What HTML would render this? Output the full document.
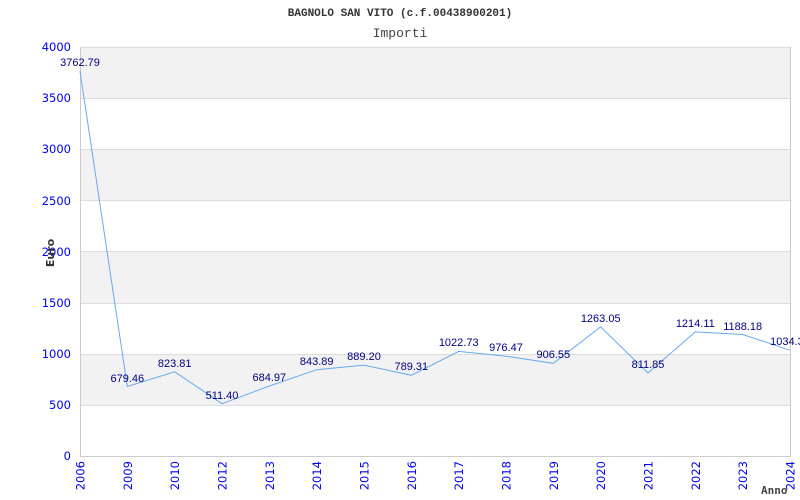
<!DOCTYPE html>
<html><head><meta charset="utf-8"><style>html,body{margin:0;padding:0;background:#fff}svg{display:block}</style></head>
<body>
<svg width="800" height="500" xmlns="http://www.w3.org/2000/svg">
<rect x="80" y="47" width="710" height="51.1" fill="#f2f2f2"/>
<rect x="80" y="149.4" width="710" height="51.1" fill="#f2f2f2"/>
<rect x="80" y="251.9" width="710" height="51.1" fill="#f2f2f2"/>
<rect x="80" y="354.2" width="710" height="51.1" fill="#f2f2f2"/>
<g stroke="#dddddd" stroke-width="1">
<line x1="80" y1="47.5" x2="790" y2="47.5"/>
<line x1="80" y1="98.5" x2="790" y2="98.5"/>
<line x1="80" y1="149.5" x2="790" y2="149.5"/>
<line x1="80" y1="200.5" x2="790" y2="200.5"/>
<line x1="80" y1="251.5" x2="790" y2="251.5"/>
<line x1="80" y1="303.5" x2="790" y2="303.5"/>
<line x1="80" y1="354.5" x2="790" y2="354.5"/>
<line x1="80" y1="405.5" x2="790" y2="405.5"/>
</g>
<g stroke="#cccccc" stroke-width="1" fill="none">
<line x1="80.5" y1="47" x2="80.5" y2="456"/>
<line x1="790.5" y1="47" x2="790.5" y2="456"/>
<line x1="80" y1="456.5" x2="791" y2="456.5"/>
</g>
<g font-family="DejaVu Sans, sans-serif" font-size="11.5" fill="#0000ee" text-anchor="end">
<text x="71" y="51">4000</text><text x="71" y="102">3500</text><text x="71" y="153">3000</text>
<text x="71" y="205">2500</text><text x="71" y="256">2000</text><text x="71" y="307">1500</text>
<text x="71" y="358">1000</text><text x="71" y="409">500</text><text x="71" y="460">0</text>
</g>
<g font-family="DejaVu Sans, sans-serif" font-size="11.5" fill="#0000ee" text-anchor="end">
<text transform="translate(84.5,461) rotate(-90)">2006</text>
<text transform="translate(131.8,461) rotate(-90)">2009</text>
<text transform="translate(179.2,461) rotate(-90)">2010</text>
<text transform="translate(226.5,461) rotate(-90)">2012</text>
<text transform="translate(273.8,461) rotate(-90)">2013</text>
<text transform="translate(321.2,461) rotate(-90)">2014</text>
<text transform="translate(368.5,461) rotate(-90)">2015</text>
<text transform="translate(415.8,461) rotate(-90)">2016</text>
<text transform="translate(463.2,461) rotate(-90)">2017</text>
<text transform="translate(510.5,461) rotate(-90)">2018</text>
<text transform="translate(557.8,461) rotate(-90)">2019</text>
<text transform="translate(605.2,461) rotate(-90)">2020</text>
<text transform="translate(652.5,461) rotate(-90)">2021</text>
<text transform="translate(699.8,461) rotate(-90)">2022</text>
<text transform="translate(747.2,461) rotate(-90)">2023</text>
<text transform="translate(794.5,461) rotate(-90)">2024</text>
</g>
<polyline fill="none" stroke="#66aaee" stroke-width="1" points="80,71.2 127.3,386.5 174.7,371.8 222,403.7 269.3,386 316.7,369.7 364,365.1 411.3,375.3 458.7,351.4 506,356.2 553.3,363.3 600.7,326.9 648,373 695.3,331.9 742.7,334.5 790,350.2"/>
<g font-family="Liberation Sans, sans-serif" font-size="11" fill="#000080" text-anchor="middle">
<text x="80" y="66">3762.79</text>
<text x="127.3" y="382">679.46</text>
<text x="174.7" y="367">823.81</text>
<text x="222" y="399">511.40</text>
<text x="269.3" y="381">684.97</text>
<text x="316.7" y="365">843.89</text>
<text x="364" y="360">889.20</text>
<text x="411.3" y="370">789.31</text>
<text x="458.7" y="346">1022.73</text>
<text x="506" y="351">976.47</text>
<text x="553.3" y="358">906.55</text>
<text x="600.7" y="322">1263.05</text>
<text x="648" y="368">811.85</text>
<text x="695.3" y="327">1214.11</text>
<text x="742.7" y="330">1188.18</text>
<text x="790" y="345">1034.30</text>
</g>
<text x="400" y="16" font-family="Liberation Mono, monospace" font-size="11" font-weight="bold" fill="#333" text-anchor="middle">BAGNOLO SAN VITO (c.f.00438900201)</text>
<text x="400" y="37" font-family="Liberation Mono, monospace" font-size="13" fill="#444" text-anchor="middle">Importi</text>
<text transform="translate(54,253) rotate(-90)" font-family="DejaVu Sans, sans-serif" font-size="11" font-weight="bold" fill="#333" text-anchor="middle">Euro</text>
<text x="761" y="494" font-family="DejaVu Sans Mono, monospace" font-size="11" font-weight="bold" fill="#444">Anno</text>
</svg>
</body></html>
